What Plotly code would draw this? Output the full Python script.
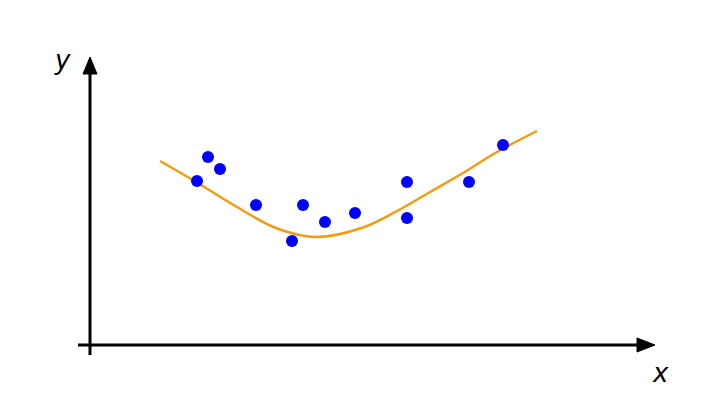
import plotly.graph_objects as go

# scatter data (abstract units)
pts_x = [2.14, 2.36, 2.60, 3.32, 4.04, 4.26, 4.70, 5.30, 6.34, 6.34, 7.58, 8.26]
pts_y = [3.28, 3.76, 3.52, 2.80, 2.08, 2.80, 2.46, 2.64, 3.26, 2.54, 3.26, 4.00]

# fitted curve samples
curve_x = [1.40, 2.14, 2.94, 3.74, 4.54, 5.46, 6.14, 6.80, 7.46, 8.14, 8.94]
curve_y = [3.68, 3.25, 2.76, 2.33, 2.16, 2.35, 2.68, 3.06, 3.44, 3.86, 4.28]

X_MAX = 11.3
Y_MAX = 5.76

fig = go.Figure()
fig.add_trace(go.Scatter(x=curve_x, y=curve_y, mode="lines",
                         line=dict(color="#f39c12", width=2.5, shape="spline", smoothing=1.0),
                         hoverinfo="skip"))
fig.add_trace(go.Scatter(x=pts_x, y=pts_y, mode="markers",
                         marker=dict(color="#0000ff", size=12, line=dict(width=0))))

ink = "black"
shapes = [
    dict(type="line", x0=0, x1=0, y0=-0.2, y1=Y_MAX - 0.3, line=dict(color=ink, width=3)),
    dict(type="line", x0=-0.24, x1=X_MAX - 0.3, y0=0, y1=0, line=dict(color=ink, width=3)),
    dict(type="path", path=f"M -0.14 {Y_MAX-0.34} L 0.14 {Y_MAX-0.34} L 0 {Y_MAX} Z",
         fillcolor=ink, line=dict(color=ink, width=1)),
    dict(type="path", path=f"M {X_MAX-0.36} -0.14 L {X_MAX-0.36} 0.14 L {X_MAX} 0 Z",
         fillcolor=ink, line=dict(color=ink, width=1)),
]

fig.update_layout(
    width=720, height=405,
    margin=dict(l=0, r=0, t=0, b=0),
    paper_bgcolor="white", plot_bgcolor="white",
    showlegend=False,
    shapes=shapes,
    xaxis=dict(range=[-1.64, 12.76], visible=False),
    yaxis=dict(range=[-1.36, 6.74], visible=False),
    annotations=[
        dict(x=-0.56, y=5.7, text="<i>y</i>", showarrow=False, xref="x", yref="y",
             font=dict(family="DejaVu Sans", size=26, color="black")),
        dict(x=11.4, y=-0.55, text="<i>x</i>", showarrow=False, xref="x", yref="y",
             font=dict(family="DejaVu Sans", size=26, color="black")),
    ],
)

fig.write_html("out.html")
